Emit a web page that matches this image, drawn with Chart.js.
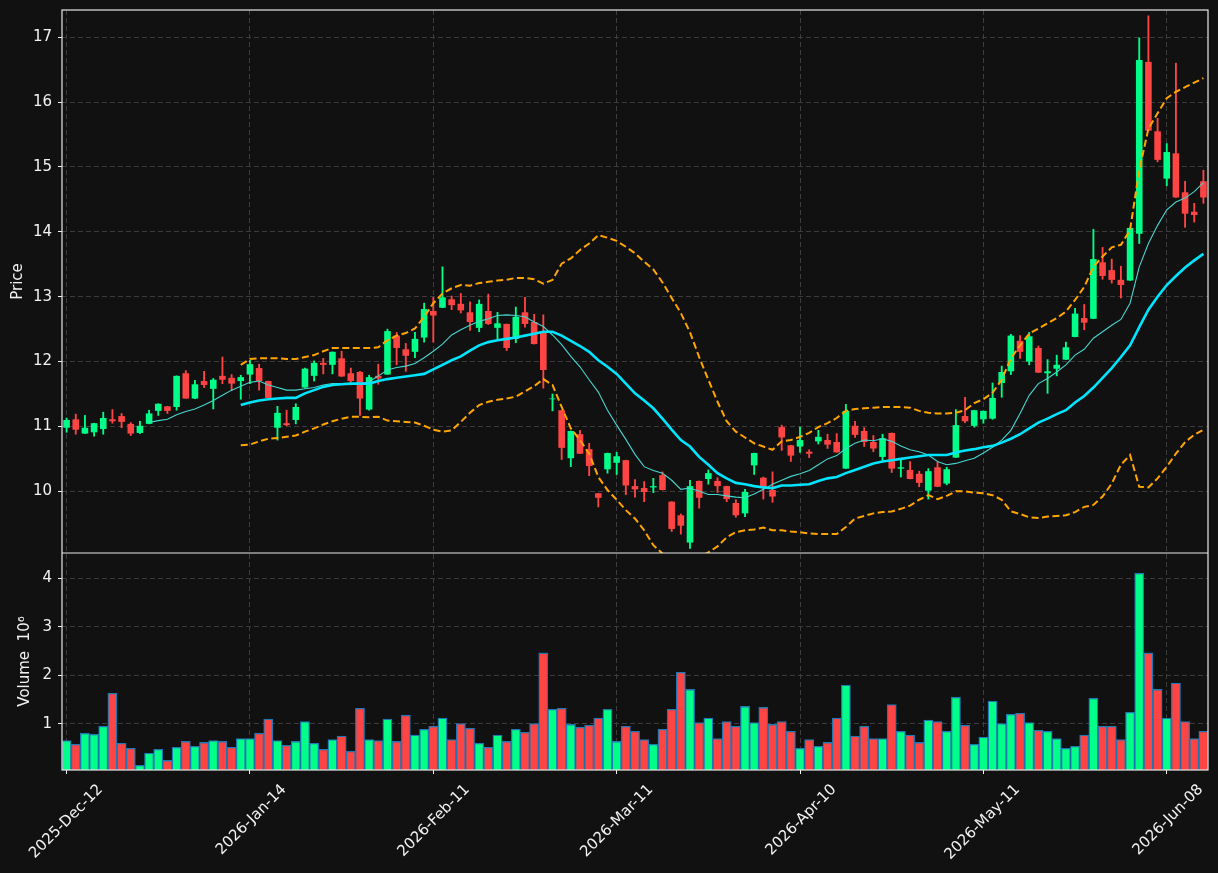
<!DOCTYPE html>
<html>
<head>
<meta charset="utf-8">
<script src="https://cdn.jsdelivr.net/npm/chart.js@4.4.1/dist/chart.umd.min.js"></script>
<style>
  html, body { margin: 0; padding: 0; background: #111111; }
  #wrap { width: 1218px; height: 873px; }
</style>
</head>
<body>
<div id="wrap"><canvas id="chart" width="1218" height="873"></canvas></div>
<script>
var tickLabels = ["2025-Dec-12", "2026-Jan-14", "2026-Feb-11", "2026-Mar-11", "2026-Apr-10", "2026-May-11", "2026-Jun-08"];
var tickStep = 20;

var opens = [
  10.98, 11.11, 10.89, 10.91, 10.96, 11.11, 11.16, 11.04, 10.90, 11.04,
  11.24, 11.31, 11.30, 11.82, 11.43, 11.70, 11.58, 11.78, 11.75, 11.70,
  11.80, 11.90, 11.70, 10.98, 11.05, 11.10, 11.60, 11.78, 11.98, 11.95,
  12.05, 11.82, 11.84, 11.26, 11.78, 11.80, 12.40, 12.19, 12.15, 12.37,
  12.78, 12.83, 12.96, 12.89, 12.76, 12.52, 12.78, 12.52, 12.58, 12.35,
  12.76, 12.61, 12.46, 11.42, 11.25, 10.51, 10.88, 10.65, 9.97, 10.34,
  10.44, 10.48, 10.08, 10.05, 10.06, 10.25, 9.84, 9.63, 9.21, 10.16,
  10.19, 10.16, 10.08, 9.82, 9.66, 10.40, 10.21, 10.02, 10.99, 10.71,
  10.69, 10.61, 10.77, 10.79, 10.76, 10.35, 11.01, 10.93, 10.76, 10.53,
  10.90, 10.35, 10.33, 10.27, 10.01, 10.37, 10.12, 10.52, 11.16, 11.01,
  11.11, 11.12, 11.67, 11.85, 12.32, 12.00, 12.21, 11.82, 11.89, 12.03,
  12.38, 12.67, 12.66, 13.53, 13.41, 13.26, 13.25, 13.97, 16.62, 15.55,
  14.82, 15.21, 14.61, 14.31, 14.78
];
var highs = [
  11.13, 11.19, 11.17, 11.05, 11.22, 11.26, 11.20, 11.06, 11.08, 11.25,
  11.35, 11.31, 11.78, 11.86, 11.71, 11.85, 11.74, 12.07, 11.80, 11.79,
  12.02, 11.96, 11.70, 11.31, 11.25, 11.35, 11.90, 12.01, 12.05, 12.15,
  12.16, 11.90, 11.85, 11.79, 11.96, 12.50, 12.45, 12.28, 12.45, 12.90,
  12.99, 13.46, 13.01, 13.05, 12.92, 12.95, 13.04, 12.76, 12.58, 12.84,
  12.99, 12.73, 12.72, 11.50, 11.25, 10.93, 10.94, 10.74, 9.97, 10.59,
  10.60, 10.48, 10.18, 10.15, 10.20, 10.30, 9.84, 9.65, 10.17, 10.16,
  10.33, 10.21, 10.08, 9.87, 10.03, 10.59, 10.22, 10.30, 11.02, 10.71,
  10.99, 10.64, 10.94, 10.88, 10.89, 11.34, 11.08, 10.98, 10.86, 10.88,
  10.90, 10.50, 10.46, 10.31, 10.35, 10.45, 10.37, 11.26, 11.45, 11.25,
  11.24, 11.67, 11.93, 12.42, 12.40, 12.45, 12.24, 12.03, 12.10, 12.30,
  12.82, 12.88, 14.04, 13.76, 13.58, 13.47, 14.06, 16.99, 17.33, 15.75,
  15.36, 16.60, 14.78, 14.44, 14.95
];
var lows = [
  10.91, 10.88, 10.89, 10.85, 10.88, 11.05, 10.98, 10.86, 10.89, 11.04,
  11.17, 11.20, 11.25, 11.43, 11.43, 11.60, 11.27, 11.66, 11.55, 11.42,
  11.66, 11.56, 11.44, 10.79, 11.01, 11.04, 11.60, 11.70, 11.81, 11.81,
  11.77, 11.64, 11.17, 11.25, 11.65, 11.80, 11.95, 11.85, 12.06, 12.30,
  12.30, 12.83, 12.80, 12.75, 12.48, 12.46, 12.57, 12.35, 12.17, 12.29,
  12.53, 12.27, 11.59, 11.24, 10.49, 10.38, 10.58, 10.24, 9.76, 10.28,
  10.26, 9.95, 9.91, 9.84, 9.98, 10.02, 9.38, 9.34, 9.12, 9.74,
  10.11, 9.98, 9.84, 9.60, 9.61, 10.26, 9.88, 9.83, 10.63, 10.46,
  10.60, 10.52, 10.73, 10.66, 10.60, 10.35, 10.83, 10.69, 10.61, 10.45,
  10.29, 10.22, 10.19, 10.07, 9.88, 10.07, 10.10, 10.52, 11.06, 10.99,
  11.05, 11.11, 11.45, 11.80, 12.05, 11.95, 11.83, 11.51, 11.78, 12.03,
  12.38, 12.49, 12.66, 13.27, 13.21, 12.98, 13.25, 13.82, 15.56, 15.08,
  14.71, 14.53, 14.07, 14.15, 14.44
];
var closes = [
  11.10, 10.95, 10.98, 11.05, 11.13, 11.08, 11.07, 10.89, 11.01, 11.20,
  11.35, 11.24, 11.78, 11.43, 11.65, 11.64, 11.72, 11.72, 11.66, 11.76,
  11.96, 11.70, 11.44, 11.21, 11.02, 11.30, 11.89, 11.98, 11.95, 12.15,
  11.77, 11.70, 11.43, 11.76, 11.74, 12.47, 12.21, 12.09, 12.35, 12.81,
  12.71, 12.99, 12.87, 12.79, 12.61, 12.89, 12.58, 12.59, 12.21, 12.69,
  12.58, 12.27, 11.87, 11.43, 10.67, 10.93, 10.58, 10.39, 9.90, 10.59,
  10.54, 10.09, 10.03, 9.99, 10.08, 10.02, 9.42, 9.47, 10.08, 9.90,
  10.28, 10.08, 9.88, 9.63, 9.99, 10.59, 10.07, 9.92, 10.83, 10.55,
  10.79, 10.58, 10.84, 10.72, 10.60, 11.24, 10.87, 10.76, 10.66, 10.82,
  10.35, 10.37, 10.19, 10.13, 10.31, 10.07, 10.34, 11.02, 11.08, 11.25,
  11.24, 11.44, 11.84, 12.40, 12.15, 12.39, 11.83, 11.85, 11.95, 12.22,
  12.74, 12.60, 13.58, 13.32, 13.26, 13.18, 14.06, 16.65, 15.56, 15.11,
  15.23, 14.53, 14.28, 14.26, 14.53
];
// volume in millions
var volumes = [
  0.66, 0.58, 0.81, 0.79, 0.95, 1.63, 0.60, 0.50, 0.15, 0.40,
  0.48, 0.25, 0.52, 0.64, 0.54, 0.62, 0.66, 0.64, 0.52, 0.70,
  0.70, 0.81, 1.10, 0.66, 0.56, 0.64, 1.05, 0.60, 0.48, 0.68,
  0.75, 0.44, 1.32, 0.68, 0.66, 1.10, 0.64, 1.18, 0.77, 0.89,
  0.95, 1.12, 0.68, 1.01, 0.91, 0.60, 0.52, 0.77, 0.64, 0.89,
  0.83, 1.01, 2.46, 1.30, 1.32, 0.99, 0.93, 0.97, 1.12, 1.30,
  0.64, 0.95, 0.85, 0.68, 0.58, 0.89, 1.30, 2.06, 1.71, 1.03,
  1.12, 0.70, 1.05, 0.95, 1.36, 1.03, 1.34, 0.99, 1.05, 0.85,
  0.50, 0.68, 0.54, 0.62, 1.12, 1.80, 0.75, 0.95, 0.70, 0.70,
  1.40, 0.85, 0.77, 0.62, 1.08, 1.05, 0.85, 1.55, 0.97, 0.58,
  0.73, 1.47, 1.01, 1.20, 1.22, 1.03, 0.87, 0.85, 0.70, 0.50,
  0.54, 0.77, 1.53, 0.95, 0.95, 0.68, 1.24, 4.10, 2.46, 1.71,
  1.12, 1.84, 1.05, 0.70, 0.85
];

// moving averages (first value at ma10Start / ma20Start)
var ma10Start = 9;
var ma10 = [
  11.06, 11.09, 11.11, 11.18, 11.23, 11.27, 11.33, 11.40, 11.48, 11.56,
  11.62, 11.68, 11.70, 11.64, 11.60, 11.56, 11.56, 11.58, 11.60, 11.64,
  11.66, 11.66, 11.66, 11.65, 11.69, 11.78, 11.87, 11.91, 11.93, 11.97,
  12.06, 12.16, 12.27, 12.41, 12.49, 12.56, 12.62, 12.66, 12.71, 12.72,
  12.71, 12.69, 12.61, 12.54, 12.41, 12.26, 12.08, 11.92, 11.72, 11.53,
  11.25, 11.02, 10.80, 10.57, 10.38, 10.32, 10.28, 10.17, 10.03, 10.05,
  10.00, 9.95, 9.95, 9.93, 9.91, 9.90, 9.96, 10.03, 10.11, 10.17,
  10.23, 10.27, 10.32, 10.41, 10.50, 10.55, 10.66, 10.74, 10.79, 10.78,
  10.81, 10.77, 10.70, 10.64, 10.61, 10.56, 10.46, 10.41, 10.43, 10.47,
  10.51, 10.59, 10.68, 10.79, 10.94, 11.20, 11.48, 11.66, 11.74, 11.84,
  11.95, 12.10, 12.19, 12.36, 12.46, 12.56, 12.65, 12.90, 13.46, 13.82,
  14.10, 14.34, 14.46, 14.52, 14.62, 14.76
];
var ma20Start = 19;
var ma20 = [
  11.33, 11.37, 11.40, 11.42, 11.43, 11.44, 11.44, 11.51, 11.56, 11.61,
  11.64, 11.65, 11.66, 11.66, 11.66, 11.70, 11.73, 11.75, 11.77, 11.79,
  11.81, 11.88, 11.95, 12.02, 12.08, 12.17, 12.25, 12.30, 12.33, 12.35,
  12.37, 12.40, 12.43, 12.46, 12.46, 12.40, 12.32, 12.24, 12.15, 12.02,
  11.92, 11.81, 11.66, 11.51, 11.40, 11.28, 11.12, 10.95, 10.79, 10.69,
  10.53, 10.41, 10.28, 10.20, 10.13, 10.11, 10.08, 10.06, 10.05, 10.09,
  10.09, 10.10, 10.11, 10.16, 10.20, 10.22, 10.28, 10.33, 10.38, 10.43,
  10.46, 10.48, 10.50, 10.52, 10.54, 10.56, 10.56, 10.56, 10.60, 10.63,
  10.65, 10.68, 10.70, 10.75, 10.81, 10.88, 10.97, 11.06, 11.12, 11.19,
  11.25, 11.37, 11.47, 11.60, 11.75, 11.90, 12.07, 12.25, 12.53, 12.80,
  13.00, 13.18, 13.32, 13.45, 13.56, 13.66
];
var bbUpper = [
  11.95, 12.04, 12.05, 12.05, 12.05, 12.04, 12.04, 12.07, 12.10, 12.16,
  12.21, 12.21, 12.21, 12.21, 12.21, 12.22, 12.33, 12.40, 12.44, 12.51,
  12.69, 12.90, 13.05, 13.13, 13.18, 13.17, 13.21, 13.23, 13.25, 13.26,
  13.29, 13.29, 13.27, 13.20, 13.26, 13.51, 13.59, 13.72, 13.82, 13.95,
  13.91, 13.86, 13.77, 13.67, 13.54, 13.42, 13.22, 12.98, 12.75, 12.45,
  12.07, 11.72, 11.38, 11.08, 10.92, 10.83, 10.74, 10.69, 10.64, 10.77,
  10.79, 10.84, 10.90, 10.99, 11.05, 11.13, 11.24, 11.27, 11.28, 11.29,
  11.30, 11.30, 11.30, 11.29, 11.24, 11.21, 11.20, 11.20, 11.21, 11.25,
  11.36, 11.42, 11.52, 11.72, 12.05, 12.25, 12.43, 12.51, 12.59, 12.67,
  12.77, 12.95, 13.15, 13.46, 13.62, 13.76, 13.80, 14.03, 14.95, 15.59,
  15.83, 16.06, 16.16, 16.23, 16.30, 16.37
];
var bbLower = [
  10.71, 10.72, 10.77, 10.81, 10.82, 10.84, 10.86, 10.92, 10.97, 11.03,
  11.08, 11.12, 11.15, 11.15, 11.14, 11.15, 11.09, 11.08, 11.07, 11.06,
  11.01, 10.95, 10.92, 10.94, 11.07, 11.21, 11.33, 11.38, 11.41, 11.43,
  11.46, 11.54, 11.62, 11.73, 11.64, 11.30, 10.97, 10.79, 10.58, 10.22,
  10.02, 9.87, 9.71, 9.58, 9.40, 9.17, 9.04, 8.93, 8.85, 8.90,
  8.98, 9.06, 9.15, 9.29, 9.37, 9.40, 9.41, 9.44, 9.40, 9.40,
  9.38, 9.37, 9.35, 9.34, 9.34, 9.34, 9.45, 9.58, 9.62, 9.66,
  9.68, 9.69, 9.73, 9.78, 9.87, 9.94, 9.88, 9.93, 10.00, 10.00,
  9.98, 9.97, 9.94, 9.87, 9.69, 9.65, 9.60, 9.59, 9.61, 9.62,
  9.63, 9.68, 9.76, 9.79, 9.92, 10.12, 10.41, 10.56, 10.07, 10.06,
  10.20, 10.38, 10.58, 10.76, 10.87, 10.95
];

(function () {
  var UP = "#00ff88";
  var DOWN = "#ff4444";
  var TXT = "#f2f2f2";
  var GRID = "#3d3d3d";
  var FRAME = "#e8e8e8";

  Chart.defaults.font.family = "'DejaVu Sans', sans-serif";
  Chart.defaults.font.size = 15;
  Chart.defaults.color = TXT;

  var n = closes.length;
  var categories = [];
  for (var i = 0; i < n; i++) categories.push(String(i));

  function pad(vals, start) {
    var out = [];
    for (var k = 0; k < start; k++) out.push(null);
    return out.concat(vals);
  }

  var colors = closes.map(function (c, k) { return c >= opens[k] ? UP : DOWN; });
  var bodies = opens.map(function (o, k) { return [o, closes[k]]; });
  var wicks = lows.map(function (l, k) { return [l, highs[k]]; });

  function lineSet(label, data, color, width, dash) {
    return {
      type: "line",
      label: label,
      data: data,
      yAxisID: "y",
      borderColor: color,
      borderWidth: width,
      borderDash: dash || [],
      pointRadius: 0,
      tension: 0,
      fill: false,
    };
  }

  function fitY(s) {
    s.width = 62;
    s.paddingTop = 0;
    s.paddingBottom = 0;
  }

  var framePlugin = {
    id: "frame",
    afterDraw: function (chart) {
      var a = chart.chartArea;
      var yp = chart.scales.y;
      var ctx = chart.ctx;
      ctx.save();
      ctx.strokeStyle = FRAME;
      ctx.lineWidth = 1.2;
      ctx.strokeRect(a.left, a.top, a.right - a.left, a.bottom - a.top);
      ctx.beginPath();
      ctx.moveTo(a.left, yp.bottom);
      ctx.lineTo(a.right, yp.bottom);
      ctx.stroke();
      ctx.restore();
    },
  };

  new Chart(document.getElementById("chart"), {
    type: "bar",
    data: {
      labels: categories,
      datasets: [
        lineSet("BB upper", pad(bbUpper, ma20Start), "#ffa500", 2, [7, 3.5]),
        lineSet("BB lower", pad(bbLower, ma20Start), "#ffa500", 2, [7, 3.5]),
        lineSet("MA20", pad(ma20, ma20Start), "#00e5ff", 2.6),
        lineSet("MA10", pad(ma10, ma10Start), "#46d6cf", 1.1),
        {
          label: "body",
          data: bodies,
          yAxisID: "y",
          backgroundColor: colors,
          borderWidth: 0,
          grouped: false,
          barPercentage: 0.72,
          categoryPercentage: 1,
        },
        {
          label: "wick",
          data: wicks,
          yAxisID: "y",
          backgroundColor: colors,
          borderWidth: 0,
          grouped: false,
          barThickness: 1.2,
        },
        {
          label: "volume",
          data: volumes,
          yAxisID: "yv",
          backgroundColor: colors,
          borderColor: "#1f77b4",
          borderWidth: 1.3,
          grouped: false,
          barPercentage: 1,
          categoryPercentage: 1,
        },
      ],
    },
    options: {
      responsive: false,
      devicePixelRatio: 1,
      animation: false,
      layout: { padding: { left: 0, right: 10, top: 10, bottom: 0 } },
      plugins: { legend: { display: false }, tooltip: { enabled: false } },
      scales: {
        x: {
          type: "category",
          offset: true,
          afterFit: function (s) {
            s.height = 103;
            s.paddingLeft = 0;
            s.paddingRight = 0;
          },
          grid: {
            offset: false,
            color: function (c) { return c.index % tickStep === 0 ? GRID : "transparent"; },
            tickColor: function (c) { return c.index % tickStep === 0 ? TXT : "transparent"; },
            tickLength: 4,
            tickBorderDash: [],
          },
          border: { display: false, dash: [5, 3] },
          ticks: {
            autoSkip: false,
            minRotation: 45,
            maxRotation: 45,
            labelOffset: 34,
            padding: 7,
            color: TXT,
            callback: function (v, idx) {
              return idx % tickStep === 0 ? tickLabels[idx / tickStep] : "";
            },
          },
        },
        yv: {
          position: "left",
          stack: "panels",
          stackWeight: 217,
          min: 0.053,
          max: 4.515,
          afterFit: fitY,
          grid: { color: GRID, tickColor: TXT, tickLength: 4, tickBorderDash: [] },
          border: { display: false, dash: [5, 3] },
          ticks: { stepSize: 1, includeBounds: false, color: TXT, padding: 6 },
          title: { display: true, text: "Volume  10\u2076", color: TXT, padding: { top: 16, bottom: 0 } },
        },
        y: {
          position: "left",
          stack: "panels",
          stackWeight: 543,
          min: 9.049,
          max: 17.42,
          afterFit: fitY,
          grid: { color: GRID, tickColor: TXT, tickLength: 4, tickBorderDash: [] },
          border: { display: false, dash: [5, 3] },
          ticks: { stepSize: 1, includeBounds: false, color: TXT, padding: 6 },
          title: { display: true, text: "Price", color: TXT, padding: { top: 9, bottom: 0 } },
        },
      },
    },
    plugins: [framePlugin],
  });
})();
</script>
</body>
</html>
